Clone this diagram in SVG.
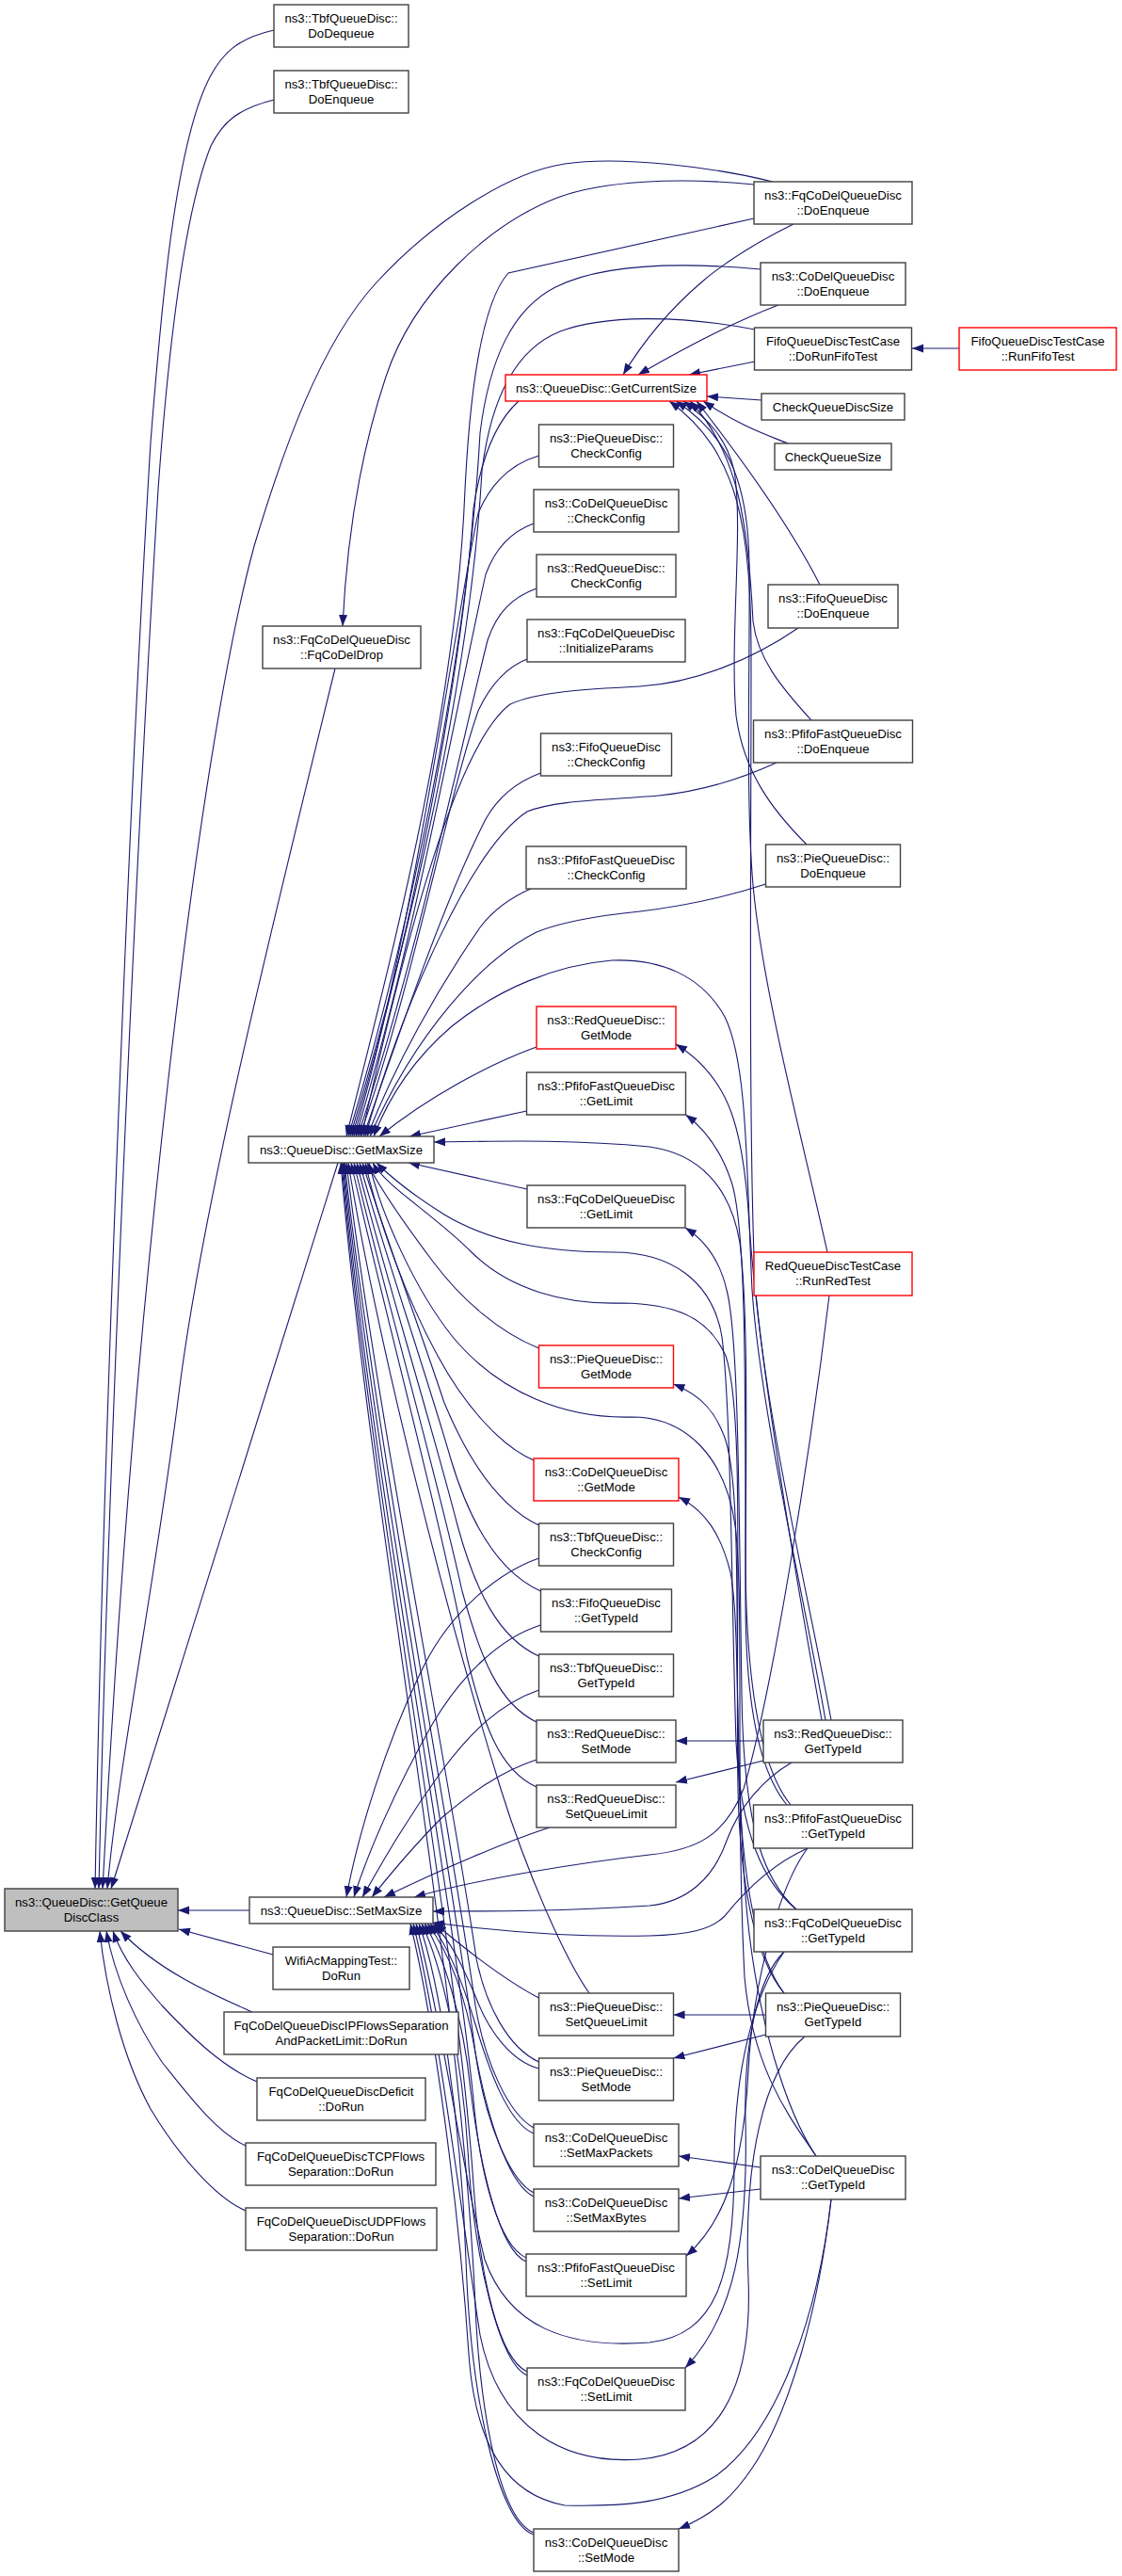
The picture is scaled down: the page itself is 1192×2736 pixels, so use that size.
<svg xmlns="http://www.w3.org/2000/svg" width="1192" height="2736" viewBox="0 0 1192 2736">
<defs>
<style>
.n rect{fill:#fff;stroke:#404040;stroke-width:1.4}
.t rect{stroke:#ff0000}
.g rect{fill:#bfbfbf}
text{font-family:"Liberation Sans",Arial,Helvetica,sans-serif;font-size:13.2px;text-anchor:middle;fill:#000}
#edges path{fill:none;stroke:#191970;stroke-width:1.1;marker-end:url(#ah)}
</style>
<marker id="ah" markerUnits="userSpaceOnUse" markerWidth="13" markerHeight="10" refX="12" refY="5" orient="auto"><path d="M0,0.5 L12,5 L0,9.5 z" fill="#191970"/></marker>
</defs>
<rect width="1192" height="2736" fill="#fff"/>
<g id="edges">
<path d="M291,32 C251,41 236,58 224,80 C186,150 171,330 160,470 C140,800 110,1500 101,2006"/>
<path d="M291,106 C251,116 236,131 224,155 C194,230 178,380 168,520 C148,850 116,1500 105,2006"/>
<path d="M821,193 C760,178 660,165 600,174 C540,183 460,235 400,300 C340,365 300,480 270,580 C210,800 140,1400 109,2006"/>
<path d="M356,710 C290,980 215,1280 190,1480 C165,1680 125,1880 114,2006"/>
<path d="M359,1235 L118,2006"/>
<path d="M265,2029 L189,2029"/>
<path d="M290,2076 L190,2049"/>
<path d="M268,2137 C230,2120 170,2095 128,2051"/>
<path d="M273,2211 C235,2195 200,2160 172,2130 C150,2105 130,2080 120,2051"/>
<path d="M261,2279 C230,2265 200,2225 172,2190 C145,2150 122,2100 113,2051"/>
<path d="M261,2348 C230,2335 190,2290 160,2240 C130,2185 112,2110 106,2051"/>
<path d="M801,196 C720,188 640,192 592,210 C520,238 440,310 410,400 C380,490 368,580 364,665"/>
<path d="M843,238 C810,254 770,278 745,300 C710,330 685,360 662,398"/>
<path d="M827,324 C790,338 740,362 678,398"/>
<path d="M802,384 L732,398"/>
<path d="M809,425 L751,421"/>
<path d="M837,471 C815,462 787,453 747,426"/>
<path d="M871,621 C840,560 790,490 740,426"/>
<path d="M862,765 C830,730 805,700 800,660 C795,560 785,480 733,426"/>
<path d="M857,897 C820,860 790,820 782,760 C775,680 790,560 780,500 C772,465 752,445 726,426"/>
<path d="M879,1330 C850,1200 810,1050 800,940 C792,850 797,700 796,600 C795,520 778,465 718,426"/>
<path d="M883,1827 C860,1700 812,1500 802,1360 C795,1200 798,900 798,700 C798,560 785,480 711,426"/>
<path d="M1019,370 L969,370"/>
<path d="M801,232 L540,290 C515,318 500,400 494,520 C485,750 420,1000 368,1207"/>
<path d="M808,286 C720,278 640,280 590,305 C545,328 520,380 510,460 C497,700 432,1000 370,1207"/>
<path d="M802,350 C720,334 640,335 595,352 C550,370 522,420 512,500 C500,720 434,1000 372,1207"/>
<path d="M551,426 C530,445 512,480 503,540 C490,720 436,1000 374,1207"/>
<path d="M572.5,484 C545,492 522,512 508,545 C485,650 438,1000 376,1207"/>
<path d="M567,556 C545,564 527,580 516,610 C485,750 440,1000 378,1207"/>
<path d="M570,625 C545,634 528,650 518,680 C488,800 442,1020 380,1207"/>
<path d="M560,700 C540,708 522,725 508,755 C475,850 438,1050 382,1207"/>
<path d="M848,667 C800,700 740,725 680,729 C620,732 570,735 542,748 C485,790 430,1000 384,1207"/>
<path d="M574.5,821 C550,830 530,845 516,870 C475,950 430,1080 386,1207"/>
<path d="M825,810 C790,826 750,840 700,845 C640,850 590,850 560,862 C502,900 430,1060 388,1207"/>
<path d="M566,943 C545,952 525,965 510,985 C465,1050 420,1130 390,1207"/>
<path d="M813.5,939 C780,950 730,962 680,968 C640,972 600,978 570,990 C510,1020 440,1100 393,1207"/>
<path d="M877,1827 C855,1700 808,1500 799,1370 C793,1250 795,1130 770,1080 C745,1035 700,1018 650,1020 C590,1025 530,1050 480,1090 C445,1120 415,1160 397,1207"/>
<path d="M570,1112 C520,1130 455,1165 403,1207"/>
<path d="M559.5,1180 L435,1207"/>
<path d="M836,1917 C805,1880 792,1800 792,1700 C792,1550 796,1400 786,1320 C776,1260 742,1225 690,1218 C610,1210 530,1212 461,1213"/>
<path d="M560,1263 L434,1235"/>
<path d="M846,2028 C812,2000 787,1950 782,1850 C777,1700 777,1500 767,1420 C757,1360 712,1330 652,1330 C582,1330 522,1320 472,1290 C440,1270 420,1255 400,1235"/>
<path d="M833,2117 C802,2080 786,2000 784,1900 C781,1700 791,1500 771,1440 C751,1395 711,1385 661,1384 C601,1386 541,1370 501,1330 C461,1290 410,1260 396,1235"/>
<path d="M867,2290 C840,2250 800,2200 791,2100 C781,1900 791,1700 781,1620 C771,1550 731,1505 671,1505 C601,1507 531,1480 481,1420 C441,1370 405,1290 392,1235"/>
<path d="M572.5,1432 C530,1415 490,1380 460,1340 C430,1300 405,1265 390,1235"/>
<path d="M567,1551 C530,1535 492,1490 465,1440 C432,1380 403,1300 388,1235"/>
<path d="M572.5,1620 C530,1600 497,1550 472,1490 C442,1400 405,1300 385,1235"/>
<path d="M574.5,1690 C530,1670 500,1620 479,1550 C450,1450 405,1320 382,1235"/>
<path d="M572.5,1759 C530,1740 505,1690 486,1620 C455,1500 405,1340 379,1235"/>
<path d="M570,1829 C530,1810 510,1760 491,1690 C460,1550 405,1360 376,1235"/>
<path d="M570,1898 C530,1880 513,1830 496,1760 C465,1600 405,1380 373,1235"/>
<path d="M626,2117 C600,2080 560,1990 532,1900 C470,1700 400,1420 370,1235"/>
<path d="M572.5,2190 C540,2175 516,2130 506,2080 C480,1900 400,1500 368,1235"/>
<path d="M567,2260 C540,2245 515,2190 505,2130 C480,1950 398,1520 366,1235"/>
<path d="M567,2329 C540,2315 515,2250 505,2180 C480,1980 396,1540 365,1235"/>
<path d="M559,2398 C530,2385 510,2310 503,2230 C480,2000 394,1560 364,1235"/>
<path d="M560,2519 C530,2505 510,2420 503,2320 C485,2050 393,1580 363,1235"/>
<path d="M567,2690 C530,2675 510,2560 505,2450 C490,2100 392,1600 362,1235"/>
<path d="M572.5,1655 C530,1670 480,1710 450,1770 C410,1850 380,1950 368,2015"/>
<path d="M574.5,1726 C530,1740 490,1780 460,1830 C420,1900 390,1970 376,2015"/>
<path d="M572.5,1795 C530,1810 500,1840 470,1880 C430,1935 405,1980 385,2015"/>
<path d="M570,1869 C530,1882 500,1905 470,1930 C440,1960 415,1990 395,2015"/>
<path d="M584,1941 C540,1955 470,1985 408,2015"/>
<path d="M881,1376 C860,1550 820,1800 790,1900 C770,1950 740,1965 690,1970 C620,1978 510,1995 440,2015"/>
<path d="M841,1872 C810,1890 785,1920 772,1955 C758,1995 730,2020 690,2024 C600,2030 520,2030 460,2030"/>
<path d="M858,1963 C820,1980 790,2010 770,2035 C755,2050 730,2055 690,2056 C600,2058 520,2050 460,2042"/>
<path d="M572.5,2122 C540,2105 500,2075 462,2043"/>
<path d="M572.5,2197 C545,2190 520,2160 505,2120 C490,2085 478,2060 460,2043"/>
<path d="M567,2266 C540,2255 520,2200 505,2150 C490,2100 475,2065 457,2043"/>
<path d="M567,2333 C540,2320 518,2250 505,2180 C493,2110 473,2068 454,2043"/>
<path d="M559,2402 C530,2390 510,2300 500,2220 C492,2140 470,2075 451,2043"/>
<path d="M560,2523 C530,2510 505,2400 498,2300 C492,2180 468,2085 448,2043"/>
<path d="M567,2692 C530,2680 500,2550 495,2400 C490,2250 466,2100 445,2043"/>
<path d="M833,2073 C800,2120 780,2200 780,2300 C780,2420 760,2480 690,2488 C600,2495 540,2470 515,2400 C490,2300 470,2150 442,2043"/>
<path d="M855,2163 C810,2200 790,2300 795,2420 C800,2540 760,2605 680,2612 C600,2618 530,2580 510,2480 C490,2350 466,2150 439,2043"/>
<path d="M883,2336 C870,2450 830,2580 760,2630 C710,2662 650,2662 600,2661 C540,2650 505,2600 498,2500 C488,2350 462,2150 436,2043"/>
<path d="M811,1849 L718,1849"/>
<path d="M811,1870 L718,1893"/>
<path d="M873,1827 C850,1700 806,1450 796,1300 C790,1200 776,1145 718,1109"/>
<path d="M840,1917 C810,1880 792,1800 792,1650 C792,1450 792,1300 777,1255 C767,1225 750,1200 728.5,1184"/>
<path d="M846,2028 C815,2000 790,1950 788,1800 C785,1600 785,1420 772,1370 C765,1340 750,1318 728,1304"/>
<path d="M833,2117 C805,2080 786,2000 784,1850 C782,1700 786,1580 771,1530 C761,1500 745,1482 715.5,1470"/>
<path d="M867,2290 C840,2250 801,2150 791,2000 C781,1850 786,1720 776,1670 C766,1630 750,1605 721,1590"/>
<path d="M813.5,2140 L715.5,2140"/>
<path d="M813.5,2161 L715.5,2186"/>
<path d="M808,2302 L721,2290"/>
<path d="M808,2325 L721,2335"/>
<path d="M883,2336 C870,2450 840,2560 800,2620 C780,2650 760,2670 721,2686"/>
<path d="M858,1963 C830,2000 800,2100 795,2200 C790,2300 770,2360 729,2396"/>
<path d="M833,2073 C805,2100 790,2170 792,2250 C795,2380 780,2460 728,2515"/>
</g>
<g id="n_root" class="n g"><rect x="5" y="2006" width="184" height="45"/><text x="97" y="2025">ns3::QueueDisc::GetQueue</text><text x="97" y="2041">DiscClass</text></g>
<g id="n_tbf_dodequeue" class="n"><rect x="291" y="5" width="143" height="45"/><text x="362.5" y="24">ns3::TbfQueueDisc::</text><text x="362.5" y="40">DoDequeue</text></g>
<g id="n_tbf_doenqueue" class="n"><rect x="291" y="75" width="143" height="45"/><text x="362.5" y="94">ns3::TbfQueueDisc::</text><text x="362.5" y="110">DoEnqueue</text></g>
<g id="n_fq_drop" class="n"><rect x="279" y="665" width="168" height="45"/><text x="363" y="684">ns3::FqCoDelQueueDisc</text><text x="363" y="700">::FqCoDelDrop</text></g>
<g id="n_getmaxsize" class="n"><rect x="264" y="1207" width="197" height="28"/><text x="362.5" y="1225.5">ns3::QueueDisc::GetMaxSize</text></g>
<g id="n_setmaxsize" class="n"><rect x="265" y="2015" width="195" height="28"/><text x="362.5" y="2033.5">ns3::QueueDisc::SetMaxSize</text></g>
<g id="n_wifi" class="n"><rect x="290" y="2068" width="145" height="45"/><text x="362.5" y="2087">WifiAcMappingTest::</text><text x="362.5" y="2103">DoRun</text></g>
<g id="n_ipflows" class="n"><rect x="238" y="2137" width="249" height="45"/><text x="362.5" y="2156">FqCoDelQueueDiscIPFlowsSeparation</text><text x="362.5" y="2172">AndPacketLimit::DoRun</text></g>
<g id="n_deficit" class="n"><rect x="273" y="2207" width="179" height="45"/><text x="362.5" y="2226">FqCoDelQueueDiscDeficit</text><text x="362.5" y="2242">::DoRun</text></g>
<g id="n_tcp" class="n"><rect x="261" y="2276" width="202" height="45"/><text x="362" y="2295">FqCoDelQueueDiscTCPFlows</text><text x="362" y="2311">Separation::DoRun</text></g>
<g id="n_udp" class="n"><rect x="261" y="2345" width="203" height="45"/><text x="362.5" y="2364">FqCoDelQueueDiscUDPFlows</text><text x="362.5" y="2380">Separation::DoRun</text></g>
<g id="n_getcurrentsize" class="n t"><rect x="537" y="398" width="214" height="28"/><text x="644" y="416.5">ns3::QueueDisc::GetCurrentSize</text></g>
<g id="n_pie_checkconfig" class="n"><rect x="572.5" y="451" width="143" height="45"/><text x="644" y="470">ns3::PieQueueDisc::</text><text x="644" y="486">CheckConfig</text></g>
<g id="n_codel_checkconfig" class="n"><rect x="567" y="520" width="154" height="45"/><text x="644" y="539">ns3::CoDelQueueDisc</text><text x="644" y="555">::CheckConfig</text></g>
<g id="n_red_checkconfig" class="n"><rect x="570" y="589" width="148" height="45"/><text x="644" y="608">ns3::RedQueueDisc::</text><text x="644" y="624">CheckConfig</text></g>
<g id="n_fq_initparams" class="n"><rect x="560" y="658" width="168" height="45"/><text x="644" y="677">ns3::FqCoDelQueueDisc</text><text x="644" y="693">::InitializeParams</text></g>
<g id="n_fifo_checkconfig" class="n"><rect x="574.5" y="779" width="139" height="45"/><text x="644" y="798">ns3::FifoQueueDisc</text><text x="644" y="814">::CheckConfig</text></g>
<g id="n_pfifo_checkconfig" class="n"><rect x="559" y="899" width="170" height="45"/><text x="644" y="918">ns3::PfifoFastQueueDisc</text><text x="644" y="934">::CheckConfig</text></g>
<g id="n_red_getmode" class="n t"><rect x="570" y="1069" width="148" height="45"/><text x="644" y="1088">ns3::RedQueueDisc::</text><text x="644" y="1104">GetMode</text></g>
<g id="n_pfifo_getlimit" class="n"><rect x="559.5" y="1139" width="169" height="45"/><text x="644" y="1158">ns3::PfifoFastQueueDisc</text><text x="644" y="1174">::GetLimit</text></g>
<g id="n_fq_getlimit" class="n"><rect x="560" y="1259" width="168" height="45"/><text x="644" y="1278">ns3::FqCoDelQueueDisc</text><text x="644" y="1294">::GetLimit</text></g>
<g id="n_pie_getmode" class="n t"><rect x="572.5" y="1429" width="143" height="45"/><text x="644" y="1448">ns3::PieQueueDisc::</text><text x="644" y="1464">GetMode</text></g>
<g id="n_codel_getmode" class="n t"><rect x="567" y="1549" width="154" height="45"/><text x="644" y="1568">ns3::CoDelQueueDisc</text><text x="644" y="1584">::GetMode</text></g>
<g id="n_tbf_checkconfig" class="n"><rect x="572.5" y="1618" width="143" height="45"/><text x="644" y="1637">ns3::TbfQueueDisc::</text><text x="644" y="1653">CheckConfig</text></g>
<g id="n_fifo_gettypeid" class="n"><rect x="574.5" y="1688" width="139" height="45"/><text x="644" y="1707">ns3::FifoQueueDisc</text><text x="644" y="1723">::GetTypeId</text></g>
<g id="n_tbf_gettypeid" class="n"><rect x="572.5" y="1757" width="143" height="45"/><text x="644" y="1776">ns3::TbfQueueDisc::</text><text x="644" y="1792">GetTypeId</text></g>
<g id="n_red_setmode" class="n"><rect x="570" y="1827" width="148" height="45"/><text x="644" y="1846">ns3::RedQueueDisc::</text><text x="644" y="1862">SetMode</text></g>
<g id="n_red_setqueuelimit" class="n"><rect x="570" y="1896" width="148" height="45"/><text x="644" y="1915">ns3::RedQueueDisc::</text><text x="644" y="1931">SetQueueLimit</text></g>
<g id="n_pie_setqueuelimit" class="n"><rect x="572.5" y="2117" width="143" height="45"/><text x="644" y="2136">ns3::PieQueueDisc::</text><text x="644" y="2152">SetQueueLimit</text></g>
<g id="n_pie_setmode" class="n"><rect x="572.5" y="2186" width="143" height="45"/><text x="644" y="2205">ns3::PieQueueDisc::</text><text x="644" y="2221">SetMode</text></g>
<g id="n_codel_setmaxpackets" class="n"><rect x="567" y="2256" width="154" height="45"/><text x="644" y="2275">ns3::CoDelQueueDisc</text><text x="644" y="2291">::SetMaxPackets</text></g>
<g id="n_codel_setmaxbytes" class="n"><rect x="567" y="2325" width="154" height="45"/><text x="644" y="2344">ns3::CoDelQueueDisc</text><text x="644" y="2360">::SetMaxBytes</text></g>
<g id="n_pfifo_setlimit" class="n"><rect x="559" y="2394" width="170" height="45"/><text x="644" y="2413">ns3::PfifoFastQueueDisc</text><text x="644" y="2429">::SetLimit</text></g>
<g id="n_fq_setlimit" class="n"><rect x="560" y="2515" width="168" height="45"/><text x="644" y="2534">ns3::FqCoDelQueueDisc</text><text x="644" y="2550">::SetLimit</text></g>
<g id="n_codel_setmode" class="n"><rect x="567" y="2686" width="154" height="45"/><text x="644" y="2705">ns3::CoDelQueueDisc</text><text x="644" y="2721">::SetMode</text></g>
<g id="n_fq_doenqueue" class="n"><rect x="801" y="193" width="168" height="45"/><text x="885" y="212">ns3::FqCoDelQueueDisc</text><text x="885" y="228">::DoEnqueue</text></g>
<g id="n_codel_doenqueue" class="n"><rect x="808" y="279" width="154" height="45"/><text x="885" y="298">ns3::CoDelQueueDisc</text><text x="885" y="314">::DoEnqueue</text></g>
<g id="n_dorunfifotest" class="n"><rect x="801.5" y="348" width="167" height="45"/><text x="885" y="367">FifoQueueDiscTestCase</text><text x="885" y="383">::DoRunFifoTest</text></g>
<g id="n_checkqueuediscsize" class="n"><rect x="809" y="418" width="152" height="28"/><text x="885" y="436.5">CheckQueueDiscSize</text></g>
<g id="n_checkqueuesize" class="n"><rect x="823" y="471" width="124" height="28"/><text x="885" y="489.5">CheckQueueSize</text></g>
<g id="n_fifo_doenqueue" class="n"><rect x="816" y="621" width="138" height="46"/><text x="885" y="640">ns3::FifoQueueDisc</text><text x="885" y="656">::DoEnqueue</text></g>
<g id="n_pfifo_doenqueue" class="n"><rect x="800.5" y="765" width="169" height="45"/><text x="885" y="784">ns3::PfifoFastQueueDisc</text><text x="885" y="800">::DoEnqueue</text></g>
<g id="n_pie_doenqueue" class="n"><rect x="813.5" y="897" width="143" height="45"/><text x="885" y="916">ns3::PieQueueDisc::</text><text x="885" y="932">DoEnqueue</text></g>
<g id="n_runredtest" class="n t"><rect x="801" y="1330" width="168" height="46"/><text x="885" y="1349">RedQueueDiscTestCase</text><text x="885" y="1365">::RunRedTest</text></g>
<g id="n_red_gettypeid" class="n"><rect x="811" y="1827" width="148" height="45"/><text x="885" y="1846">ns3::RedQueueDisc::</text><text x="885" y="1862">GetTypeId</text></g>
<g id="n_pfifo_gettypeid" class="n"><rect x="800.5" y="1917" width="169" height="46"/><text x="885" y="1936">ns3::PfifoFastQueueDisc</text><text x="885" y="1952">::GetTypeId</text></g>
<g id="n_fq_gettypeid" class="n"><rect x="801" y="2028" width="168" height="45"/><text x="885" y="2047">ns3::FqCoDelQueueDisc</text><text x="885" y="2063">::GetTypeId</text></g>
<g id="n_pie_gettypeid" class="n"><rect x="813.5" y="2117" width="143" height="46"/><text x="885" y="2136">ns3::PieQueueDisc::</text><text x="885" y="2152">GetTypeId</text></g>
<g id="n_codel_gettypeid" class="n"><rect x="808" y="2290" width="154" height="46"/><text x="885" y="2309">ns3::CoDelQueueDisc</text><text x="885" y="2325">::GetTypeId</text></g>
<g id="n_runfifotest" class="n t"><rect x="1019" y="348" width="167" height="45"/><text x="1102.5" y="367">FifoQueueDiscTestCase</text><text x="1102.5" y="383">::RunFifoTest</text></g>
</svg>
